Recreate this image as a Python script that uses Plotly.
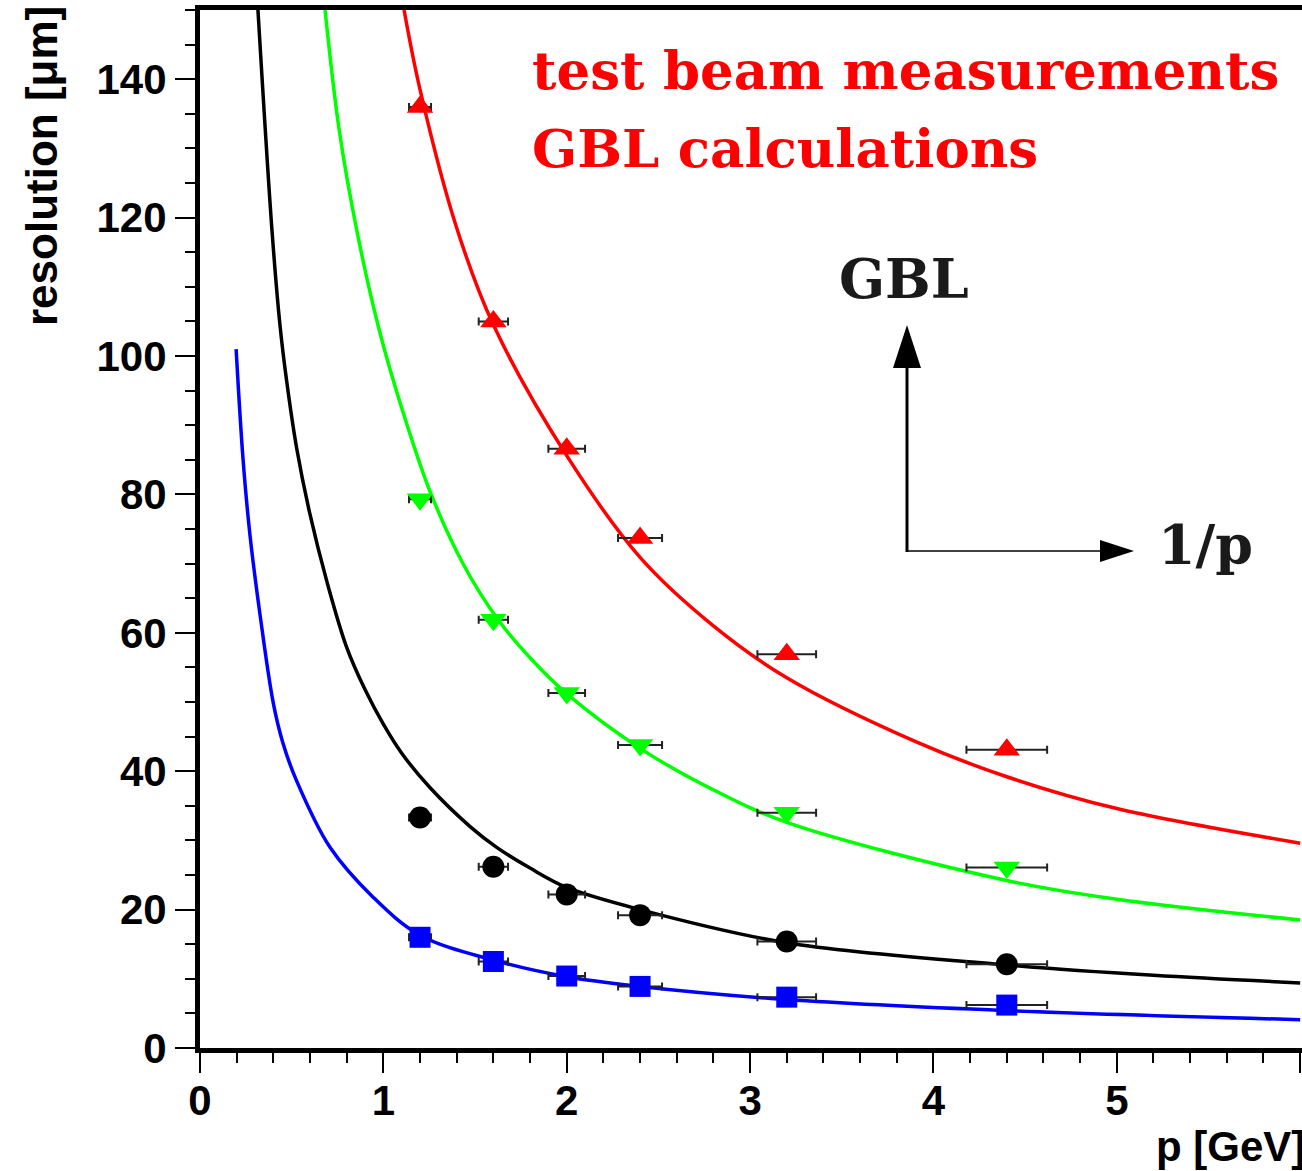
import plotly.graph_objects as go

# ---------------- data ----------------
p_meas = [1.2, 1.6, 2.0, 2.4, 3.2, 4.4]
p_err = [0.06, 0.08, 0.10, 0.12, 0.16, 0.22]

red_meas = [136.0, 105.0, 86.6, 73.7, 56.9, 43.1]
green_meas = [79.3, 61.9, 51.3, 43.8, 34.0, 26.1]
black_meas = [33.3, 26.2, 22.2, 19.2, 15.4, 12.1]
blue_meas = [16.0, 12.5, 10.4, 8.9, 7.35, 6.2]

red_calc_p = [1.113, 1.2, 1.4, 1.6, 2.0, 2.4, 2.8, 3.2, 3.9, 4.4, 5.0, 6.0]
red_calc_v = [150.0, 138.5, 118.5, 104.5, 85.6, 70.9, 61.0, 53.5, 44.3, 39.2, 34.6, 29.6]

green_calc_p = [0.682, 0.76, 0.86, 0.98, 1.1, 1.255, 1.436, 1.62, 1.8, 2.0, 2.4, 2.8, 3.2, 4.4, 5.0, 6.0]
green_calc_v = [150.0, 132.5, 117.5, 103.5, 92.5, 80.4, 69.9, 62.1, 56.4, 51.2, 43.3, 37.3, 32.6, 24.2, 21.5, 18.5]

black_calc_p = [0.316, 0.393, 0.436, 0.473, 0.527, 0.6, 0.691, 0.8, 0.9, 1.0, 1.1, 1.255, 1.473,
                1.618, 1.8, 2.0, 2.4, 3.2, 4.4, 5.2, 6.0]
black_calc_v = [150.0, 118.0, 104.5, 96.3, 86.7, 77.1, 67.5, 57.9, 51.8, 46.8, 42.6, 37.6, 32.0,
                29.0, 26.0, 23.2, 20.0, 15.2, 12.0, 10.5, 9.4]

blue_calc_p = [0.197, 0.235, 0.273, 0.327, 0.40, 0.453, 0.527, 0.709, 0.944, 1.2, 1.6, 2.0,
               2.4, 3.2, 4.4, 6.0]
blue_calc_v = [101.0, 85.0, 74.0, 62.7, 49.8, 44.0, 38.6, 29.0, 21.8, 16.3, 12.7, 10.3,
               8.9, 7.0, 5.4, 4.1]

x_ticks = [0, 1, 2, 3, 4, 5, 6]
y_ticks = [0, 20, 40, 60, 80, 100, 120, 140]

# ---------------- figure ----------------
W, H = 1302, 1171
L, R, T, B = 200, 0, 10, 123
PW, PH = W - L - R, H - T - B


def px(x):
    return (x - L) / PW


def py(y):
    return (H - B - y) / PH


fig = go.Figure()

series = [
    (red_calc_p, red_calc_v, red_meas, "#ff0000", "triangle-up", 23),
    (green_calc_p, green_calc_v, green_meas, "#00ff00", "triangle-down", 23),
    (black_calc_p, black_calc_v, black_meas, "#000000", "circle", 22),
    (blue_calc_p, blue_calc_v, blue_meas, "#0000ff", "square", 21),
]

for cp, cv, meas, col, sym, sz in series:
    fig.add_trace(go.Scatter(
        x=cp, y=cv, mode="lines",
        line=dict(color=col, width=3.5, shape="spline", smoothing=1.0),
        showlegend=False, hoverinfo="skip"))

for cp, cv, meas, col, sym, sz in series:
    fig.add_trace(go.Scatter(
        x=p_meas, y=meas, mode="markers",
        marker=dict(symbol=sym, size=sz, color=col, line=dict(width=0)),
        error_x=dict(type="data", array=p_err, visible=True,
                     color="#222222", thickness=2, width=4),
        showlegend=False))

tickfont = dict(family="Liberation Sans", size=42, color="#000000", weight="bold")

fig.update_xaxes(
    range=[0, 6.01], tickvals=x_ticks, ticktext=[str(v) for v in x_ticks],
    showline=True, linecolor="black", linewidth=5, mirror=True,
    ticks="outside", ticklen=20, tickwidth=2, tickcolor="black",
    minor=dict(dtick=0.2, tick0=0, ticks="outside", ticklen=10, tickwidth=2, tickcolor="black"),
    showgrid=False, zeroline=False, tickfont=tickfont, automargin=False,
    ticklabelstandoff=-8)

fig.update_yaxes(
    range=[0, 150], tickvals=y_ticks, ticktext=[str(v) for v in y_ticks],
    showline=True, linecolor="black", linewidth=5, mirror=False,
    ticks="outside", ticklen=20, tickwidth=2, tickcolor="black",
    minor=dict(dtick=5, tick0=0, ticks="outside", ticklen=10, tickwidth=2, tickcolor="black"),
    showgrid=False, zeroline=False, tickfont=tickfont, automargin=False)

annos = []
# axis titles
annos.append(dict(text="resolution [μm]", xref="paper", yref="paper",
                  x=px(42), y=py(4), xanchor="center", yanchor="top",
                  textangle=-90, showarrow=False,
                  font=dict(family="Liberation Sans", size=44, color="black", weight="bold")))
annos.append(dict(text="p [GeV]", xref="paper", yref="paper",
                  x=px(1154), y=py(1146), xanchor="left", yanchor="middle",
                  showarrow=False,
                  font=dict(family="Liberation Sans", size=42, color="black", weight="bold")))

serif_red = dict(family="DejaVu Serif", size=53, weight="bold", color="#ff0000")
serif_blk = dict(family="DejaVu Serif", size=54, weight="bold", color="#1a1a1a")
annos.append(dict(text="test beam measurements", xref="paper", yref="paper",
                  x=px(530), y=py(70), xanchor="left", yanchor="middle", showarrow=False,
                  font=serif_red))
annos.append(dict(text="GBL calculations", xref="paper", yref="paper",
                  x=px(530), y=py(148), xanchor="left", yanchor="middle", showarrow=False,
                  font=serif_red))
annos.append(dict(text="GBL", xref="paper", yref="paper",
                  x=px(837), y=py(279), xanchor="left", yanchor="middle", showarrow=False,
                  font=serif_blk))
annos.append(dict(text="1/p", xref="paper", yref="paper",
                  x=px(1156), y=py(545), xanchor="left", yanchor="middle", showarrow=False,
                  font=serif_blk))
fig.update_layout(annotations=annos)

# arrows (decorations, in paper coordinates)
shapes = []
shapes.append(dict(type="line", xref="paper", yref="paper",
                   x0=px(907), y0=py(552), x1=px(907), y1=py(362),
                   line=dict(color="black", width=3)))
shapes.append(dict(type="path", xref="paper", yref="paper",
                   path=f"M {px(893)},{py(368)} L {px(921)},{py(368)} L {px(907)},{py(325)} Z",
                   fillcolor="black", line=dict(color="black", width=0)))
shapes.append(dict(type="line", xref="paper", yref="paper",
                   x0=px(906), y0=py(551), x1=px(1104), y1=py(551),
                   line=dict(color="black", width=1.6)))
shapes.append(dict(type="path", xref="paper", yref="paper",
                   path=f"M {px(1100)},{py(540)} L {px(1100)},{py(562)} L {px(1134)},{py(551)} Z",
                   fillcolor="black", line=dict(color="black", width=0)))
fig.update_layout(shapes=shapes)

fig.update_layout(
    width=W, height=H,
    margin=dict(l=L, r=R, t=T, b=B, pad=0),
    paper_bgcolor="white", plot_bgcolor="white",
    showlegend=False,
)

fig.write_html("out.html")
